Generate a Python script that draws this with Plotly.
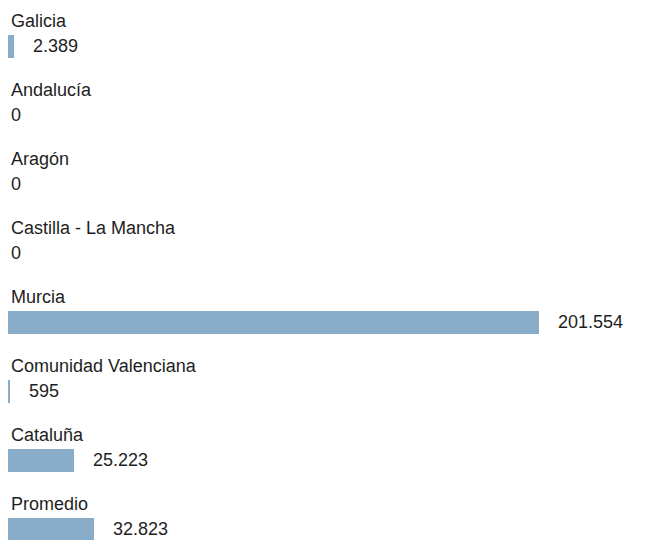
import plotly.graph_objects as go

# Regions and their values (thousands separator shown with a dot)
regions = ["Galicia", "Andalucía", "Aragón", "Castilla - La Mancha",
           "Murcia", "Comunidad Valenciana", "Cataluña", "Promedio"]
values = [2389, 0, 0, 0, 201554, 595, 25223, 32823]
value_labels = ["2.389", "0", "0", "0", "201.554", "595", "25.223", "32.823"]

BAR_COLOR = "#89acc9"
TEXT_COLOR = "#1e1e1e"
FONT = "Liberation Sans"
FONT_SIZE = 18

W, H = 648, 540
LEFT = 8          # pixel where the bars start
BAR_SPAN = 531    # pixel length of the longest bar
ROW = 69          # pixel pitch between rows
FIRST = 46        # pixel centre of the first row

scale = BAR_SPAN / max(values)
rows = list(range(len(regions)))

fig = go.Figure(go.Bar(
    x=values,
    y=rows,
    orientation="h",
    width=23 / ROW,
    marker=dict(color=BAR_COLOR, line=dict(width=0)),
    hoverinfo="skip",
))

annotations = []
for i, (name, v, lab) in enumerate(zip(regions, values, value_labels)):
    annotations.append(dict(
        x=0, y=i, xref="x", yref="y", text=name, showarrow=False,
        xanchor="left", yanchor="middle", xshift=1, yshift=25,
        font=dict(family=FONT, size=FONT_SIZE, color=TEXT_COLOR),
    ))
    annotations.append(dict(
        x=v, y=i, xref="x", yref="y", text=lab, showarrow=False,
        xanchor="left", yanchor="middle", xshift=(17 if v > 0 else 1),
        font=dict(family=FONT, size=FONT_SIZE, color=TEXT_COLOR),
    ))

fig.update_layout(
    width=W, height=H,
    margin=dict(l=0, r=0, t=0, b=0),
    paper_bgcolor="white", plot_bgcolor="white",
    showlegend=False,
    bargap=0,
    annotations=annotations,
    xaxis=dict(range=[-LEFT / scale, (W - LEFT) / scale], visible=False,
               fixedrange=True),
    yaxis=dict(range=[(H - FIRST) / ROW, -FIRST / ROW], visible=False,
               fixedrange=True),
)

fig.write_html("out.html", config={"displayModeBar": False})
